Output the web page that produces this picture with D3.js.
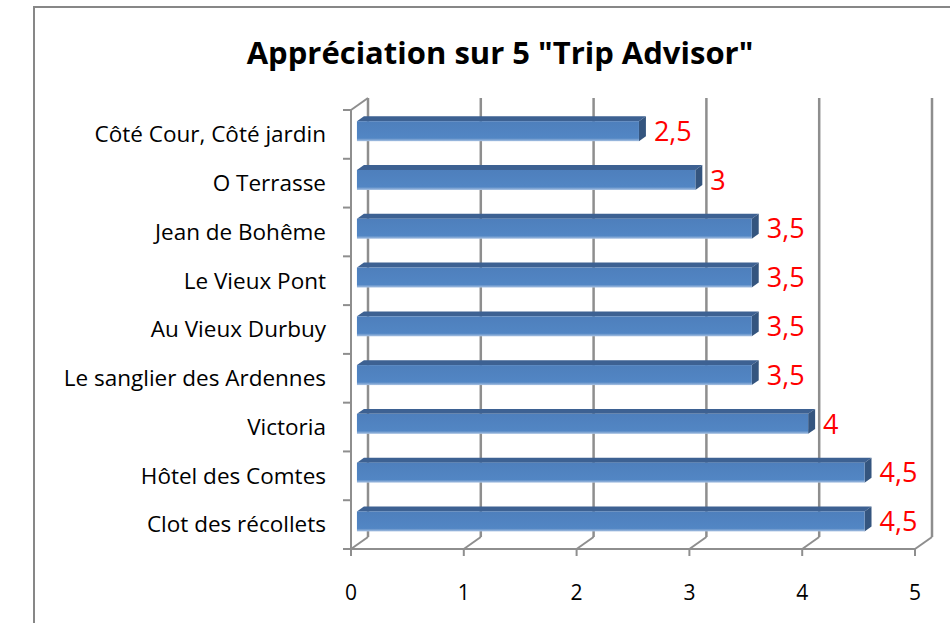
<!DOCTYPE html>
<html>
  <head>
    <meta charset="utf-8">
    <title>Appréciation sur 5 Trip Advisor</title>
    <script src="https://d3js.org/d3.v7.min.js"></script>
    <style>
      body { margin: 0; background: #fff; }
      text { font-family: "Open Sans", "Noto Sans", sans-serif; }
    </style>
  </head>
  <body>
    <svg width="950" height="623"></svg>

    <script>
      // data (top to bottom)
      var hotels = ["Côté Cour, Côté jardin", "O Terrasse", "Jean de Bohême", "Le Vieux Pont",
        "Au Vieux Durbuy", "Le sanglier des Ardennes", "Victoria", "Hôtel des Comtes", "Clot des récollets"];
      var notes = [2.5, 3, 3.5, 3.5, 3.5, 3.5, 4, 4.5, 4.5];
      var ticks = [0, 1, 2, 3, 4, 5];

      var svg = d3.select("svg");

      // outer frame of the chart area
      svg.append("rect")
        .attr("x", 34).attr("y", 7)
        .attr("width", 940).attr("height", 640)
        .attr("fill", "#fff")
        .attr("stroke", "#878787")
        .attr("stroke-width", 2);

      // title
      svg.append("text")
        .attr("x", 500).attr("y", 64)
        .attr("text-anchor", "middle")
        .attr("font-size", 31)
        .attr("font-weight", "bold")
        .attr("fill", "#000")
        .text('Appréciation sur 5 "Trip Advisor"');

      // scales (front plane)
      var x = d3.scaleLinear().domain([0, 5]).range([351, 915]);
      var y = d3.scaleBand().domain(hotels).range([110, 549]);

      // 3d depth offset of the back wall
      var dx = 17, dy = -12;
      var gridColor = "#8e8e8e";

      var grid = svg.append("g");

      // back wall gridlines
      grid.selectAll(".back")
        .data(ticks)
        .enter().append("line")
        .attr("x1", function(d) { return x(d) + dx; })
        .attr("x2", function(d) { return x(d) + dx; })
        .attr("y1", y.range()[0] + dy)
        .attr("y2", y.range()[1] + dy)
        .attr("stroke", gridColor)
        .attr("stroke-width", 2.5);

      // floor diagonals
      grid.selectAll(".floor")
        .data(ticks)
        .enter().append("line")
        .attr("x1", function(d) { return x(d); })
        .attr("x2", function(d) { return x(d) + dx; })
        .attr("y1", y.range()[1])
        .attr("y2", y.range()[1] + dy)
        .attr("stroke", gridColor)
        .attr("stroke-width", 2);

      // left wall top edge
      grid.append("line")
        .attr("x1", x(0)).attr("x2", x(0) + dx)
        .attr("y1", y.range()[0]).attr("y2", y.range()[0] + dy)
        .attr("stroke", gridColor)
        .attr("stroke-width", 2);

      // front axes
      grid.append("line")
        .attr("x1", x(0)).attr("x2", x(0))
        .attr("y1", y.range()[0]).attr("y2", y.range()[1])
        .attr("stroke", gridColor)
        .attr("stroke-width", 2);
      grid.append("line")
        .attr("x1", x(0)).attr("x2", x(5))
        .attr("y1", y.range()[1]).attr("y2", y.range()[1])
        .attr("stroke", gridColor)
        .attr("stroke-width", 2);

      // tick marks
      var bounds = hotels.map(function(h) { return y(h); }).concat([y.range()[1]]);
      grid.selectAll(".ytick")
        .data(bounds)
        .enter().append("line")
        .attr("x1", x(0) - 8).attr("x2", x(0))
        .attr("y1", function(d) { return d; })
        .attr("y2", function(d) { return d; })
        .attr("stroke", gridColor)
        .attr("stroke-width", 2);
      grid.selectAll(".xtick")
        .data(ticks)
        .enter().append("line")
        .attr("x1", function(d) { return x(d); })
        .attr("x2", function(d) { return x(d); })
        .attr("y1", y.range()[1])
        .attr("y2", y.range()[1] + 7)
        .attr("stroke", gridColor)
        .attr("stroke-width", 2);

      // axis labels
      svg.selectAll(".xlab")
        .data(ticks)
        .enter().append("text")
        .attr("x", function(d) { return x(d); })
        .attr("y", 600)
        .attr("text-anchor", "middle")
        .attr("font-size", 21)
        .text(function(d) { return d; });

      svg.selectAll(".ylab")
        .data(hotels)
        .enter().append("text")
        .attr("x", 326)
        .attr("y", function(d) { return y(d) + y.bandwidth() / 2; })
        .attr("dy", "0.35em")
        .attr("text-anchor", "end")
        .attr("font-size", 22.5)
        .text(function(d) { return d; });

      // gradient for bar front
      var defs = svg.append("defs");
      var grad = defs.append("linearGradient")
        .attr("id", "front").attr("x1", 0).attr("x2", 0).attr("y1", 0).attr("y2", 1);
      grad.append("stop").attr("offset", "0%").attr("stop-color", "#4e7fbc");
      grad.append("stop").attr("offset", "85%").attr("stop-color", "#5286c4");
      grad.append("stop").attr("offset", "100%").attr("stop-color", "#a9c2e2");

      // bars: front face sits at f1 of depth, back at f2
      var f1 = 0.35, f2 = 0.76;
      var barH = 20;
      var bars = svg.selectAll(".bar")
        .data(hotels)
        .enter().append("g");

      bars.each(function(h, i) {
        var g = d3.select(this);
        var v = notes[i];
        var cy = y(h) + y.bandwidth() / 2 + 1 + dy * f1;
        var x0 = x(0) + dx * f1, x1 = x(v) + dx * f1;
        var top = cy - barH / 2, bot = cy + barH / 2;
        var ox = dx * (f2 - f1), oy = dy * (f2 - f1);
        // top face
        g.append("path")
          .attr("d", "M" + x0 + "," + top + "L" + (x0 + ox) + "," + (top + oy) +
            "L" + (x1 + ox) + "," + (top + oy) + "L" + x1 + "," + top + "Z")
          .attr("fill", "#3d6192");
        // end cap
        g.append("path")
          .attr("d", "M" + x1 + "," + top + "L" + (x1 + ox) + "," + (top + oy) +
            "L" + (x1 + ox) + "," + (bot + oy) + "L" + x1 + "," + bot + "Z")
          .attr("fill", "#34557f");
        // front face
        g.append("rect")
          .attr("x", x0).attr("y", top)
          .attr("width", x1 - x0).attr("height", barH)
          .attr("fill", "url(#front)");
        // value label
        g.append("text")
          .attr("x", x(v) + dx * f2 + 8)
          .attr("y", cy)
          .attr("dy", "0.36em")
          .attr("font-size", 27)
          .attr("fill", "#ff0000")
          .text(String(v).replace(".", ","));
      });
    </script>
  </body>
</html>
